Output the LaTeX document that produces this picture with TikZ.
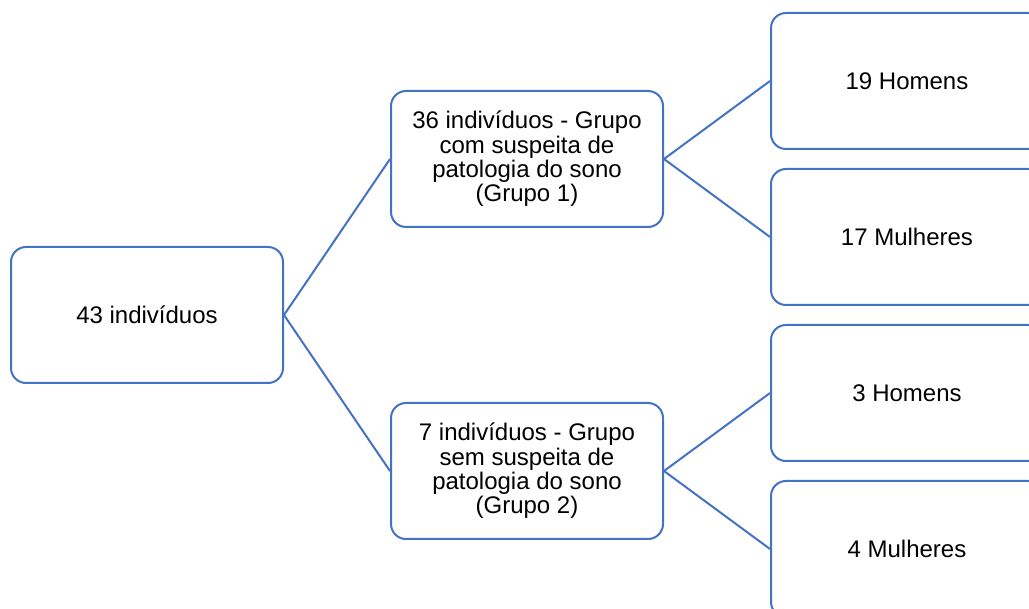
\documentclass[tikz,border=0pt]{standalone}
\usepackage{fontspec}
\setmainfont{Liberation Sans}
\definecolor{boxblue}{RGB}{68,114,196}
\begin{document}
\begin{tikzpicture}[x=1pt,y=-1pt,
  box/.style={draw=boxblue,line width=2pt,fill=white,rounded corners=15pt,
    minimum width=272pt,minimum height=136pt,inner sep=0pt,align=center,
    font=\fontsize{24}{24.4}\selectfont},
  link/.style={draw=boxblue,line width=2pt}]
\useasboundingbox (0,0) rectangle (1029,609);
\clip (0,0) rectangle (1029,609);
\fill[white] (0,0) rectangle (1029,609);
\node[box] (root) at (147,315) {43 indivíduos};
\node[box] (g1) at (527,159) {36 indivíduos - Grupo\\com suspeita de\\patologia do sono\\(Grupo 1)};
\node[box] (g2) at (527,471) {7 indivíduos - Grupo\\sem suspeita de\\patologia do sono\\(Grupo 2)};
\node[box] (h1) at (907,81) {19 Homens};
\node[box] (m1) at (907,237) {17 Mulheres};
\node[box] (h2) at (907,393) {3 Homens};
\node[box] (m2) at (907,549) {4 Mulheres};
\draw[link] (root.east) -- (g1.west);
\draw[link] (root.east) -- (g2.west);
\draw[link] (g1.east) -- (h1.west);
\draw[link] (g1.east) -- (m1.west);
\draw[link] (g2.east) -- (h2.west);
\draw[link] (g2.east) -- (m2.west);
\end{tikzpicture}
\end{document}
